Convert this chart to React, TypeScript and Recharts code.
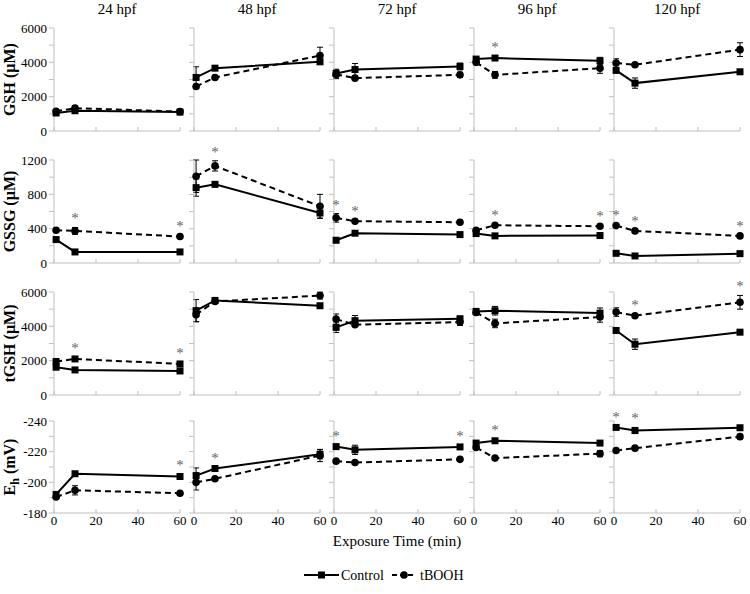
import React from 'react';
import { LineChart, Line, XAxis, YAxis, ErrorBar } from 'recharts';

const FONT = 'Liberation Serif';

const stages = ['24 hpf', '48 hpf', '72 hpf', '96 hpf', '120 hpf'];
const times = [1, 10, 60];
const timeTicks = [0, 20, 40, 60];

// GSH (µM) - one triple (1, 10, 60 min) per stage
const gshControl = [[1050, 1180, 1100], [3120, 3660, 4030], [3350, 3580, 3760], [4190, 4250, 4090], [3530, 2790, 3450]];
const gshControlErr = [[100, 100, 80], [620, 100, 150], [250, 350, 200], [100, 100, 200], [120, 300, 100]];
const gshTbooh = [[1150, 1330, 1130], [2590, 3120, 4400], [3300, 3080, 3270], [4000, 3270, 3660], [3960, 3860, 4740]];
const gshTboohErr = [[80, 120, 80], [120, 100, 480], [250, 100, 150], [150, 200, 300], [250, 100, 400]];
const gshStars = [[], [], [], [1], []];

// GSSG (µM)
const gssgControl = [[273, 129, 129], [880, 919, 584], [265, 347, 331], [343, 316, 320], [113, 82, 109]];
const gssgControlErr = [[20, 10, 10], [100, 30, 60], [15, 20, 15], [15, 15, 15], [10, 10, 10]];
const gssgTbooh = [[382, 374, 308], [1013, 1134, 662], [526, 487, 475], [382, 440, 428], [436, 374, 316]];
const gssgTboohErr = [[20, 40, 15], [190, 60, 140], [50, 15, 20], [20, 20, 15], [15, 15, 10]];
const gssgStars = [[1, 2], [1], [0, 1], [1, 2], [0, 1, 2]];

// tGSH (µM)
const tgshControl = [[1620, 1460, 1400], [4910, 5510, 5200], [3940, 4330, 4440], [4870, 4910, 4770], [3760, 2960, 3660]];
const tgshControlErr = [[80, 60, 60], [650, 100, 100], [300, 300, 150], [100, 250, 300], [100, 300, 100]];
const tgshTbooh = [[1950, 2100, 1810], [4680, 5450, 5790], [4420, 4090, 4250], [4810, 4170, 4540], [4830, 4620, 5400]];
const tgshTboohErr = [[100, 100, 100], [400, 100, 200], [300, 100, 200], [150, 250, 300], [250, 100, 400]];
const tgshStars = [[1, 2], [], [], [], [1, 2]];
const tgshTboohMarker = ['square', 'circle', 'circle', 'circle', 'circle'];

// Eh (mV)
const ehControl = [[-192.1, -205.6, -203.8], [-204.4, -209, -218.3], [-223.3, -221.2, -223.1], [-225.6, -227.1, -225.6], [-235.8, -233.8, -235.6]];
const ehControlErr = [[1, 1, 1.5], [5, 1, 3], [1, 3, 1], [1, 1, 1], [1, 2, 1]];
const ehTbooh = [[-190.4, -194.8, -192.9], [-200, -202.3, -217.5], [-213.8, -212.9, -215], [-222.7, -215.8, -218.7], [-220.8, -222.3, -229.8]];
const ehTboohErr = [[1, 3, 1], [5, 1, 4], [1, 1, 1], [1, 1, 2], [1, 1, 1.5]];
const ehStars = [[2], [1], [0, 2], [1], [0, 1]];

const gshTicks = [0, 1000, 2000, 3000, 4000, 5000, 6000];
const gssgTicks = [0, 200, 400, 600, 800, 1000, 1200];
const ehTicks = [-240, -230, -220, -210, -200, -190, -180];

const rows = [
  { label: 'GSH', unit: ' (µM)', ticks: gshTicks, every: 2000, reversed: false, control: gshControl, controlErr: gshControlErr, tbooh: gshTbooh, tboohErr: gshTboohErr, stars: gshStars },
  { label: 'GSSG', unit: ' (µM)', ticks: gssgTicks, every: 400, reversed: false, control: gssgControl, controlErr: gssgControlErr, tbooh: gssgTbooh, tboohErr: gssgTboohErr, stars: gssgStars },
  { label: 'tGSH', unit: ' (µM)', ticks: gshTicks, every: 2000, reversed: false, control: tgshControl, controlErr: tgshControlErr, tbooh: tgshTbooh, tboohErr: tgshTboohErr, stars: tgshStars, marker: tgshTboohMarker },
  { label: 'E', sub: 'h', unit: ' (mV)', ticks: ehTicks, every: 20, reversed: true, control: ehControl, controlErr: ehControlErr, tbooh: ehTbooh, tboohErr: ehTboohErr, stars: ehStars },
];

// layout
const PLOT_LEFT = 54;
const STEP = 140;
const PLOT_W = 126;
const ROW_TOP = [28, 160, 292, 421];
const ROW_H = [103, 103, 103, 92];
const Y_W = 44;
const M_TOP = 18;
const M_RIGHT = 10;
const GRAY = '#bfbfbf';

const squareDot = (p: any) => (
  <rect key={`s${p.index}`} x={p.cx - 3.5} y={p.cy - 3.5} width={7} height={7} fill="#000" />
);
const circleDot = (p: any) => (
  <circle key={`c${p.index}`} cx={p.cx} cy={p.cy} r={3.8} fill="#000" />
);

const XTick = (props: any) => {
  const { x, y, payload, showLabel } = props;
  return (
    <g>
      <line x1={x} x2={x} y1={y - 4} y2={y} stroke={GRAY} />
      {showLabel && (
        <text x={x} y={y + 12} textAnchor="middle" fontSize={13} fontFamily={FONT} fill="#000">
          {payload.value}
        </text>
      )}
    </g>
  );
};

function Panel({ r, c }: { r: number; c: number }) {
  const row: any = rows[r];
  const bottom = r === rows.length - 1;
  const xH = bottom ? 24 : 12;
  const data = times.map((t, i) => {
    const cv = row.control[c][i];
    const ce = row.controlErr[c][i];
    const bv = row.tbooh[c][i];
    const be = row.tboohErr[c][i];
    const top = row.reversed ? Math.min(cv - ce, bv - be) : Math.max(cv + ce, bv + be);
    return { t, cv, ce, bv, be, top };
  });
  const stars: number[] = row.stars[c];
  const starDot = (p: any) =>
    stars.includes(p.index) ? (
      <text key={`st${p.index}`} x={p.cx} y={p.cy - 4} textAnchor="middle" fontSize={15} fontFamily={FONT} fill="#666">
        *
      </text>
    ) : (
      <g key={`st${p.index}`} />
    );
  const tboohDot = row.marker && row.marker[c] === 'square' ? squareDot : circleDot;

  return (
    <div style={{ position: 'absolute', left: PLOT_LEFT + c * STEP - Y_W, top: ROW_TOP[r] - M_TOP }}>
      <LineChart
        width={Y_W + PLOT_W + M_RIGHT}
        height={M_TOP + ROW_H[r] + xH}
        data={data}
        margin={{ top: M_TOP, right: M_RIGHT, left: 0, bottom: 0 }}
      >
        <XAxis
          dataKey="t"
          type="number"
          domain={[0, 60]}
          ticks={timeTicks}
          height={xH}
          axisLine={{ stroke: GRAY }}
          tickLine={false}
          tickSize={0}
          tickMargin={0}
          tick={<XTick showLabel={bottom} />}
          interval={0}
        />
        <YAxis
          type="number"
          width={Y_W}
          domain={[row.ticks[0], row.ticks[row.ticks.length - 1]]}
          ticks={row.ticks}
          reversed={row.reversed}
          interval={0}
          axisLine={{ stroke: GRAY }}
          tickLine={{ stroke: GRAY }}
          tickSize={5}
          tickMargin={2}
          tick={{ fontSize: 13, fill: '#000', fontFamily: FONT }}
          tickFormatter={(v: number) => (c === 0 && v % row.every === 0 ? String(v) : '')}
        />
        <Line
          dataKey="bv"
          stroke="#000"
          strokeWidth={2}
          strokeDasharray="6 4"
          dot={tboohDot}
          activeDot={false}
          isAnimationActive={false}
        >
          <ErrorBar dataKey="be" direction="y" width={3} stroke="#000" strokeWidth={1} />
        </Line>
        <Line
          dataKey="cv"
          stroke="#000"
          strokeWidth={2}
          dot={squareDot}
          activeDot={false}
          isAnimationActive={false}
        >
          <ErrorBar dataKey="ce" direction="y" width={3} stroke="#000" strokeWidth={1} />
        </Line>
        <Line dataKey="top" stroke="none" dot={starDot} activeDot={false} isAnimationActive={false} />
      </LineChart>
    </div>
  );
}

export default function App() {
  return (
    <div style={{ position: 'absolute', left: 0, top: 0, width: 750, height: 594, background: '#fff', fontFamily: FONT }}>
      <svg width={750} height={594} style={{ position: 'absolute', left: 0, top: 0 }}>
        {stages.map((s, i) => (
          <text key={s} x={PLOT_LEFT + PLOT_W / 2 + i * STEP} y={14} textAnchor="middle" fontSize={15} fontFamily={FONT}>
            {s}
          </text>
        ))}
        {rows.map((row: any, i) => (
          <text
            key={row.label}
            transform={`translate(15, ${ROW_TOP[i] + ROW_H[i] / 2}) rotate(-90)`}
            textAnchor="middle"
            fontSize={16}
            fontWeight="bold"
            fontFamily={FONT}
          >
            {row.label}
            {row.sub ? (
              <>
                <tspan dy={4} fontSize={12}>{row.sub}</tspan>
                <tspan dy={-4}>{row.unit}</tspan>
              </>
            ) : (
              row.unit
            )}
          </text>
        ))}
        <text x={397} y={546} textAnchor="middle" fontSize={15} fontFamily={FONT}>
          Exposure Time (min)
        </text>
        <line x1={304} x2={339} y1={575} y2={575} stroke="#000" strokeWidth={2} />
        <rect x={318} y={571.5} width={7} height={7} fill="#000" />
        <text x={341} y={580} fontSize={14} fontFamily={FONT}>Control</text>
        <line x1={392} x2={416} y1={575} y2={575} stroke="#000" strokeWidth={2} strokeDasharray="5 3" />
        <circle cx={404} cy={575} r={3.8} fill="#000" />
        <text x={420} y={580} fontSize={14} fontFamily={FONT}>tBOOH</text>
      </svg>
      {rows.map((_, r) => stages.map((__, c) => <Panel key={`${r}-${c}`} r={r} c={c} />))}
    </div>
  );
}
